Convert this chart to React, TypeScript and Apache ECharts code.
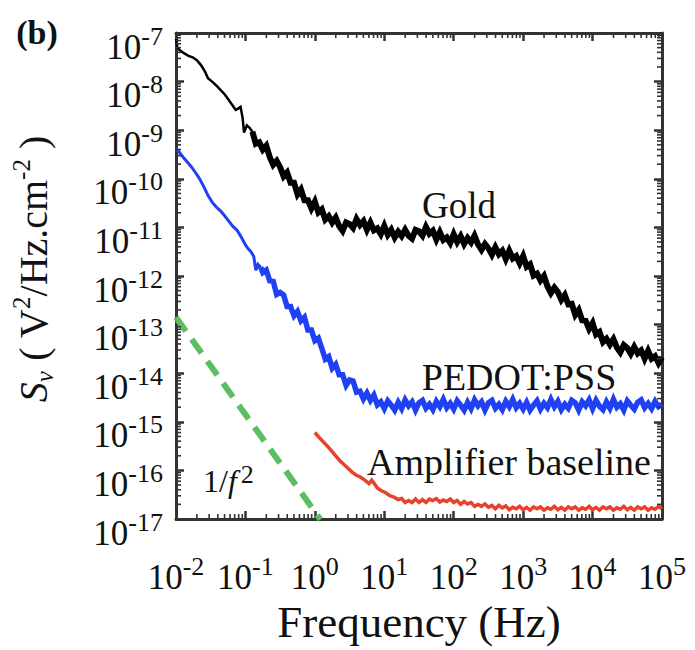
import { useEffect, useRef } from 'react';
import * as echarts from 'echarts';

const FONT = "'Liberation Serif', 'Times New Roman', Times, serif";
const TEXT = '#111111';
const AXIS = '#333333';

// Axis ranges as powers of ten (log10 units)
const X_MIN = -2;
const X_MAX = 5;
const Y_MIN = -17;
const Y_MAX = -7;
const xExponents = [-2, -1, 0, 1, 2, 3, 4, 5];
const yExponents = [-17, -16, -15, -14, -13, -12, -11, -10, -9, -8, -7];

// Data: [log10(f / Hz), log10(Sv / V^2 Hz^-1 cm^-2)]
const goldStart = [
  [-2.0, -7.12], [-1.98, -7.3], [-1.94, -7.36], [-1.88, -7.42], [-1.82, -7.47],
  [-1.76, -7.5], [-1.7, -7.56], [-1.64, -7.66], [-1.58, -7.8], [-1.54, -7.93],
  [-1.48, -8.0], [-1.42, -8.08], [-1.36, -8.17], [-1.3, -8.26], [-1.24, -8.38],
  [-1.18, -8.5], [-1.14, -8.58], [-1.1, -8.55], [-1.07, -8.52], [-1.04, -8.75],
  [-1.02, -9.05], [-0.98, -8.9], [-0.94, -8.95], [-0.9, -9.03],
];
const goldNoisy = [
  [-0.9, -9.03], [-0.85, -9.28], [-0.8, -9.25], [-0.75, -9.4], [-0.7, -9.32],
  [-0.65, -9.55], [-0.6, -9.71], [-0.55, -9.63], [-0.5, -9.76], [-0.45, -9.95],
  [-0.4, -9.87], [-0.35, -10.08], [-0.3, -10.08], [-0.25, -10.32], [-0.2, -10.22],
  [-0.15, -10.44], [-0.1, -10.44], [-0.05, -10.61], [0.0, -10.47], [0.05, -10.69],
  [0.1, -10.63], [0.15, -10.84], [0.2, -10.77], [0.25, -10.9], [0.3, -10.8],
  [0.35, -10.97], [0.4, -11.07], [0.45, -10.9], [0.5, -10.93], [0.55, -11.01],
  [0.6, -10.83], [0.65, -10.95], [0.7, -10.87], [0.75, -11.05], [0.8, -10.9],
  [0.85, -11.06], [0.9, -11.02], [0.95, -11.14], [1.0, -10.97], [1.05, -11.15],
  [1.1, -11.05], [1.15, -11.21], [1.2, -11.09], [1.25, -11.18], [1.3, -11.05],
  [1.35, -11.17], [1.4, -11.23], [1.45, -11.05], [1.5, -11.08], [1.55, -11.17],
  [1.6, -10.99], [1.65, -11.13], [1.7, -11.07], [1.75, -11.25], [1.8, -11.1],
  [1.85, -11.26], [1.9, -11.21], [1.95, -11.32], [2.0, -11.14], [2.05, -11.3],
  [2.1, -11.18], [2.15, -11.34], [2.2, -11.22], [2.25, -11.31], [2.3, -11.17],
  [2.35, -11.35], [2.4, -11.46], [2.45, -11.34], [2.5, -11.43], [2.55, -11.56],
  [2.6, -11.41], [2.65, -11.55], [2.7, -11.48], [2.75, -11.65], [2.8, -11.48],
  [2.85, -11.64], [2.9, -11.59], [2.95, -11.74], [3.0, -11.59], [3.05, -11.81],
  [3.1, -11.76], [3.15, -11.99], [3.2, -11.95], [3.25, -12.09], [3.3, -12.0],
  [3.35, -12.21], [3.4, -12.35], [3.45, -12.24], [3.5, -12.33], [3.55, -12.49],
  [3.6, -12.39], [3.65, -12.58], [3.7, -12.57], [3.75, -12.8], [3.8, -12.7],
  [3.85, -12.91], [3.9, -12.92], [3.95, -13.09], [4.0, -12.97], [4.05, -13.2],
  [4.1, -13.15], [4.15, -13.36], [4.2, -13.29], [4.25, -13.41], [4.3, -13.3],
  [4.35, -13.47], [4.4, -13.57], [4.45, -13.42], [4.5, -13.48], [4.55, -13.6],
  [4.6, -13.46], [4.65, -13.59], [4.7, -13.53], [4.75, -13.7], [4.8, -13.54],
  [4.85, -13.7], [4.9, -13.65], [4.95, -13.79], [5.0, -13.67],
];
const pedotStart = [
  [-2.0, -9.38], [-1.96, -9.44], [-1.9, -9.55], [-1.84, -9.65], [-1.78, -9.75],
  [-1.72, -9.87], [-1.66, -10.0], [-1.6, -10.16], [-1.54, -10.34], [-1.48, -10.48],
  [-1.42, -10.58], [-1.36, -10.66], [-1.3, -10.76], [-1.24, -10.87], [-1.18, -10.98],
  [-1.12, -11.06], [-1.06, -11.2], [-1.0, -11.36], [-0.96, -11.44], [-0.92, -11.5],
  [-0.88, -11.6], [-0.85, -11.88], [-0.82, -11.76], [-0.78, -11.82],
];
const pedotNoisy = [
  [-0.78, -11.82], [-0.75, -11.93], [-0.7, -11.88], [-0.65, -12.1], [-0.6, -12.11],
  [-0.55, -12.38], [-0.5, -12.34], [-0.45, -12.39], [-0.4, -12.63], [-0.35, -12.63],
  [-0.3, -12.82], [-0.25, -12.73], [-0.2, -12.92], [-0.15, -12.85], [-0.1, -13.11],
  [-0.05, -13.11], [0.0, -13.33], [0.05, -13.28], [0.1, -13.49], [0.15, -13.71],
  [0.2, -13.66], [0.25, -13.9], [0.3, -13.82], [0.35, -14.03], [0.4, -14.03],
  [0.45, -14.25], [0.5, -14.14], [0.55, -14.16], [0.6, -14.39], [0.65, -14.37],
  [0.7, -14.53], [0.75, -14.41], [0.8, -14.56], [0.85, -14.45], [0.9, -14.65],
  [0.95, -14.59], [1.0, -14.73], [1.05, -14.57], [1.1, -14.66], [1.15, -14.76],
  [1.2, -14.6], [1.25, -14.73], [1.3, -14.55], [1.35, -14.67], [1.4, -14.59],
  [1.45, -14.76], [1.5, -14.61], [1.55, -14.56], [1.6, -14.72], [1.65, -14.64],
  [1.7, -14.75], [1.75, -14.58], [1.8, -14.69], [1.85, -14.54], [1.9, -14.71],
  [1.95, -14.62], [2.0, -14.74], [2.05, -14.57], [2.1, -14.66], [2.15, -14.76],
  [2.2, -14.6], [2.25, -14.73], [2.3, -14.55], [2.35, -14.67], [2.4, -14.59],
  [2.45, -14.76], [2.5, -14.61], [2.55, -14.56], [2.6, -14.72], [2.65, -14.64],
  [2.7, -14.75], [2.75, -14.58], [2.8, -14.69], [2.85, -14.54], [2.9, -14.71],
  [2.95, -14.62], [3.0, -14.74], [3.05, -14.6], [3.1, -14.76], [3.15, -14.66],
  [3.2, -14.57], [3.25, -14.74], [3.3, -14.62], [3.35, -14.71], [3.4, -14.54],
  [3.45, -14.69], [3.5, -14.58], [3.55, -14.75], [3.6, -14.64], [3.65, -14.72],
  [3.7, -14.56], [3.75, -14.61], [3.8, -14.76], [3.85, -14.59], [3.9, -14.67],
  [3.95, -14.55], [4.0, -14.73], [4.05, -14.56], [4.1, -14.68], [4.15, -14.75],
  [4.2, -14.59], [4.25, -14.72], [4.3, -14.54], [4.35, -14.7], [4.4, -14.63],
  [4.45, -14.76], [4.5, -14.57], [4.55, -14.66], [4.6, -14.74], [4.65, -14.6],
  [4.7, -14.55], [4.75, -14.71], [4.8, -14.62], [4.85, -14.73], [4.9, -14.58],
  [4.95, -14.69], [5.0, -14.64],
];
const amplifier = [
  [0.0, -15.22], [0.06, -15.32], [0.12, -15.41], [0.18, -15.5], [0.24, -15.6],
  [0.3, -15.7], [0.36, -15.8], [0.42, -15.88], [0.48, -15.96], [0.54, -16.04],
  [0.6, -16.1], [0.66, -16.14], [0.72, -16.2], [0.78, -16.27], [0.82, -16.2],
  [0.86, -16.28], [0.9, -16.36], [0.96, -16.42], [1.02, -16.46], [1.08, -16.52],
  [1.14, -16.55], [1.2, -16.6], [1.25, -16.58], [1.3, -16.66], [1.35, -16.62],
  [1.4, -16.66], [1.45, -16.59], [1.5, -16.66], [1.55, -16.6], [1.6, -16.66],
  [1.65, -16.59], [1.7, -16.62], [1.75, -16.58], [1.8, -16.65], [1.85, -16.61],
  [1.9, -16.64], [1.95, -16.59], [2.0, -16.66], [2.05, -16.62], [2.1, -16.7],
  [2.15, -16.64], [2.2, -16.69], [2.25, -16.66], [2.3, -16.74], [2.35, -16.7],
  [2.4, -16.74], [2.45, -16.69], [2.5, -16.76], [2.55, -16.72], [2.6, -16.79],
  [2.65, -16.72], [2.7, -16.77], [2.75, -16.73], [2.8, -16.81], [2.85, -16.76],
  [2.9, -16.79], [2.95, -16.74], [3.0, -16.81], [3.05, -16.76], [3.1, -16.82],
  [3.15, -16.75], [3.2, -16.79], [3.25, -16.75], [3.3, -16.82], [3.35, -16.77],
  [3.4, -16.8], [3.45, -16.74], [3.5, -16.81], [3.55, -16.76], [3.6, -16.82],
  [3.65, -16.75], [3.7, -16.79], [3.75, -16.75], [3.8, -16.82], [3.85, -16.77],
  [3.9, -16.8], [3.95, -16.74], [4.0, -16.81], [4.05, -16.76], [4.1, -16.82],
  [4.15, -16.75], [4.2, -16.79], [4.25, -16.75], [4.3, -16.82], [4.35, -16.77],
  [4.4, -16.8], [4.45, -16.74], [4.5, -16.81], [4.55, -16.76], [4.6, -16.82],
  [4.65, -16.75], [4.7, -16.79], [4.75, -16.75], [4.8, -16.82], [4.85, -16.77],
  [4.9, -16.8], [4.95, -16.74], [5.0, -16.79],
];
const slopeGuide = [[-2.0, -12.85], [0.08, -17.01]];

// minor tick positions (log10 of 2..9 within each decade)
const minorX: number[][] = [];
for (let n = X_MIN; n < X_MAX; n++) for (let k = 2; k <= 9; k++) minorX.push([n + Math.log10(k), Y_MIN]);
const minorY: number[][] = [];
for (let n = Y_MIN; n < Y_MAX; n++) for (let k = 2; k <= 9; k++) minorY.push([X_MIN, n + Math.log10(k)]);

const powLabel = (v: number) => '{b|10}{s|' + Math.round(v) + '}';

const tickRich = {
  b: { fontFamily: FONT, fontSize: 35, lineHeight: 48, color: TEXT },
  s: { fontFamily: FONT, fontSize: 26, lineHeight: 20, verticalAlign: 'top', color: TEXT },
};

const axisCommon = {
  type: 'value',
  splitLine: { show: false },
  minorTick: { show: false },
  axisLine: { show: true, onZero: false, lineStyle: { color: AXIS, width: 3 } },
  axisTick: { show: true, inside: true, length: 8, lineStyle: { color: AXIS, width: 2.5 } },
};

const lineSeries = (name: string, data: number[][], color: string, width: number, extra: any = {}) => ({
  name,
  type: 'line',
  data,
  showSymbol: false,
  symbol: 'none',
  clip: true,
  lineStyle: { color, width, join: 'miter', ...extra },
  xAxisIndex: 0,
  yAxisIndex: 0,
  z: 3,
});

export default function App() {
  const ref = useRef<HTMLDivElement>(null);
  useEffect(() => {
    document.body.style.margin = '0';
    const chart = echarts.init(ref.current!, null, { renderer: 'svg' });
    const option: any = {
      animation: false,
      backgroundColor: '#ffffff',
      grid: { left: 176, top: 33, right: 33, bottom: 131, containLabel: false, outerBoundsMode: 'none' },
      xAxis: [
        {
          ...axisCommon,
          position: 'bottom',
          min: X_MIN,
          max: X_MAX,
          interval: 1,
          axisLabel: {
            show: true,
            margin: 34,
            showMinLabel: true,
            showMaxLabel: true,
            formatter: (v: number) => (xExponents.includes(Math.round(v)) ? powLabel(v) : ''),
            rich: tickRich,
          },
          name: 'Frequency (Hz)',
          nameLocation: 'middle',
          nameGap: 80,
          nameTextStyle: { fontFamily: FONT, fontSize: 45, lineHeight: 46, color: TEXT },
        },
        {
          ...axisCommon,
          position: 'top',
          min: X_MIN,
          max: X_MAX,
          interval: 1,
          axisLabel: { show: false },
        },
      ],
      yAxis: [
        {
          ...axisCommon,
          position: 'left',
          min: Y_MIN,
          max: Y_MAX,
          interval: 1,
          axisLabel: {
            show: true,
            margin: 13,
            padding: [28, 0, 0, 0],
            showMinLabel: true,
            showMaxLabel: true,
            formatter: (v: number) => (yExponents.includes(Math.round(v)) ? powLabel(v) : ''),
            rich: tickRich,
          },
        },
        {
          ...axisCommon,
          position: 'right',
          min: Y_MIN,
          max: Y_MAX,
          interval: 1,
          axisLabel: { show: false },
        },
      ],
      series: [
        lineSeries('1/f^2', slopeGuide, '#5cbd62', 6, { type: [17, 10], cap: 'butt' }),
        lineSeries('Gold', goldStart, '#000000', 2.5),
        lineSeries('Gold', goldNoisy, '#000000', 6),
        lineSeries('PEDOT:PSS', pedotStart, '#2040f5', 3),
        lineSeries('PEDOT:PSS', pedotNoisy, '#2040f5', 5.5),
        lineSeries('Amplifier baseline', amplifier, '#e8412c', 3.5),
        {
          type: 'custom',
          name: 'minorX',
          data: minorX,
          silent: true,
          z: 10,
          renderItem: (_p: any, api: any) => {
            const v = api.value(0);
            const b = api.coord([v, Y_MIN]);
            const t = api.coord([v, Y_MAX]);
            const st = { stroke: AXIS, lineWidth: 1.6 };
            return {
              type: 'group',
              children: [
                { type: 'line', shape: { x1: b[0], y1: b[1], x2: b[0], y2: b[1] - 5 }, style: st },
                { type: 'line', shape: { x1: t[0], y1: t[1], x2: t[0], y2: t[1] + 5 }, style: st },
              ],
            };
          },
        },
        {
          type: 'custom',
          name: 'minorY',
          data: minorY,
          silent: true,
          z: 10,
          renderItem: (_p: any, api: any) => {
            const v = api.value(1);
            const l = api.coord([X_MIN, v]);
            const r = api.coord([X_MAX, v]);
            const st = { stroke: AXIS, lineWidth: 1.6 };
            return {
              type: 'group',
              children: [
                { type: 'line', shape: { x1: l[0], y1: l[1], x2: l[0] + 5, y2: l[1] }, style: st },
                { type: 'line', shape: { x1: r[0], y1: r[1], x2: r[0] - 5, y2: r[1] }, style: st },
              ],
            };
          },
        },
      ],
      graphic: [
        {
          type: 'text', x: 37, y: 32,
          style: { text: '(b)', fontFamily: FONT, fontSize: 34, fontWeight: 'bold', fill: TEXT, align: 'center', verticalAlign: 'middle' },
        },
        {
          type: 'text', x: 33, y: 269, rotation: Math.PI / 2,
          style: {
            text: '{i|S}{sub|v}{n| ( V}{sup|2}{n|/Hz.cm}{sup|-2}{n| )}',
            align: 'center', verticalAlign: 'middle', fill: TEXT,
            rich: {
              i: { fontFamily: FONT, fontSize: 40, fontStyle: 'italic', lineHeight: 48, fill: TEXT },
              n: { fontFamily: FONT, fontSize: 40, lineHeight: 48, fill: TEXT },
              sub: { fontFamily: FONT, fontSize: 25, fontStyle: 'italic', lineHeight: 20, verticalAlign: 'bottom', fill: TEXT },
              sup: { fontFamily: FONT, fontSize: 25, lineHeight: 20, verticalAlign: 'top', fill: TEXT },
            },
          },
        },
        {
          type: 'text', x: 459, y: 205,
          style: { text: 'Gold', fontFamily: FONT, fontSize: 37, fill: TEXT, align: 'center', verticalAlign: 'middle' },
        },
        {
          type: 'text', x: 519, y: 377,
          style: { text: 'PEDOT:PSS', fontFamily: FONT, fontSize: 38, fill: TEXT, align: 'center', verticalAlign: 'middle' },
        },
        {
          type: 'text', x: 509, y: 462,
          style: { text: 'Amplifier baseline', fontFamily: FONT, fontSize: 38, fill: TEXT, align: 'center', verticalAlign: 'middle' },
        },
        {
          type: 'text', x: 203, y: 481,
          style: {
            text: '{n|1/}{i|f}{p|2}',
            align: 'left', verticalAlign: 'middle', fill: TEXT,
            rich: {
              n: { fontFamily: FONT, fontSize: 32, lineHeight: 40, fill: TEXT },
              i: { fontFamily: FONT, fontSize: 32, fontStyle: 'italic', lineHeight: 40, fill: TEXT, padding: [0, 4, 0, 0] },
              p: { fontFamily: FONT, fontSize: 26, lineHeight: 22, verticalAlign: 'top', fill: TEXT },
            },
          },
        },
      ],
    };
    chart.setOption(option);
    return () => chart.dispose();
  }, []);
  return <div ref={ref} style={{ width: 695, height: 650 }} />;
}
